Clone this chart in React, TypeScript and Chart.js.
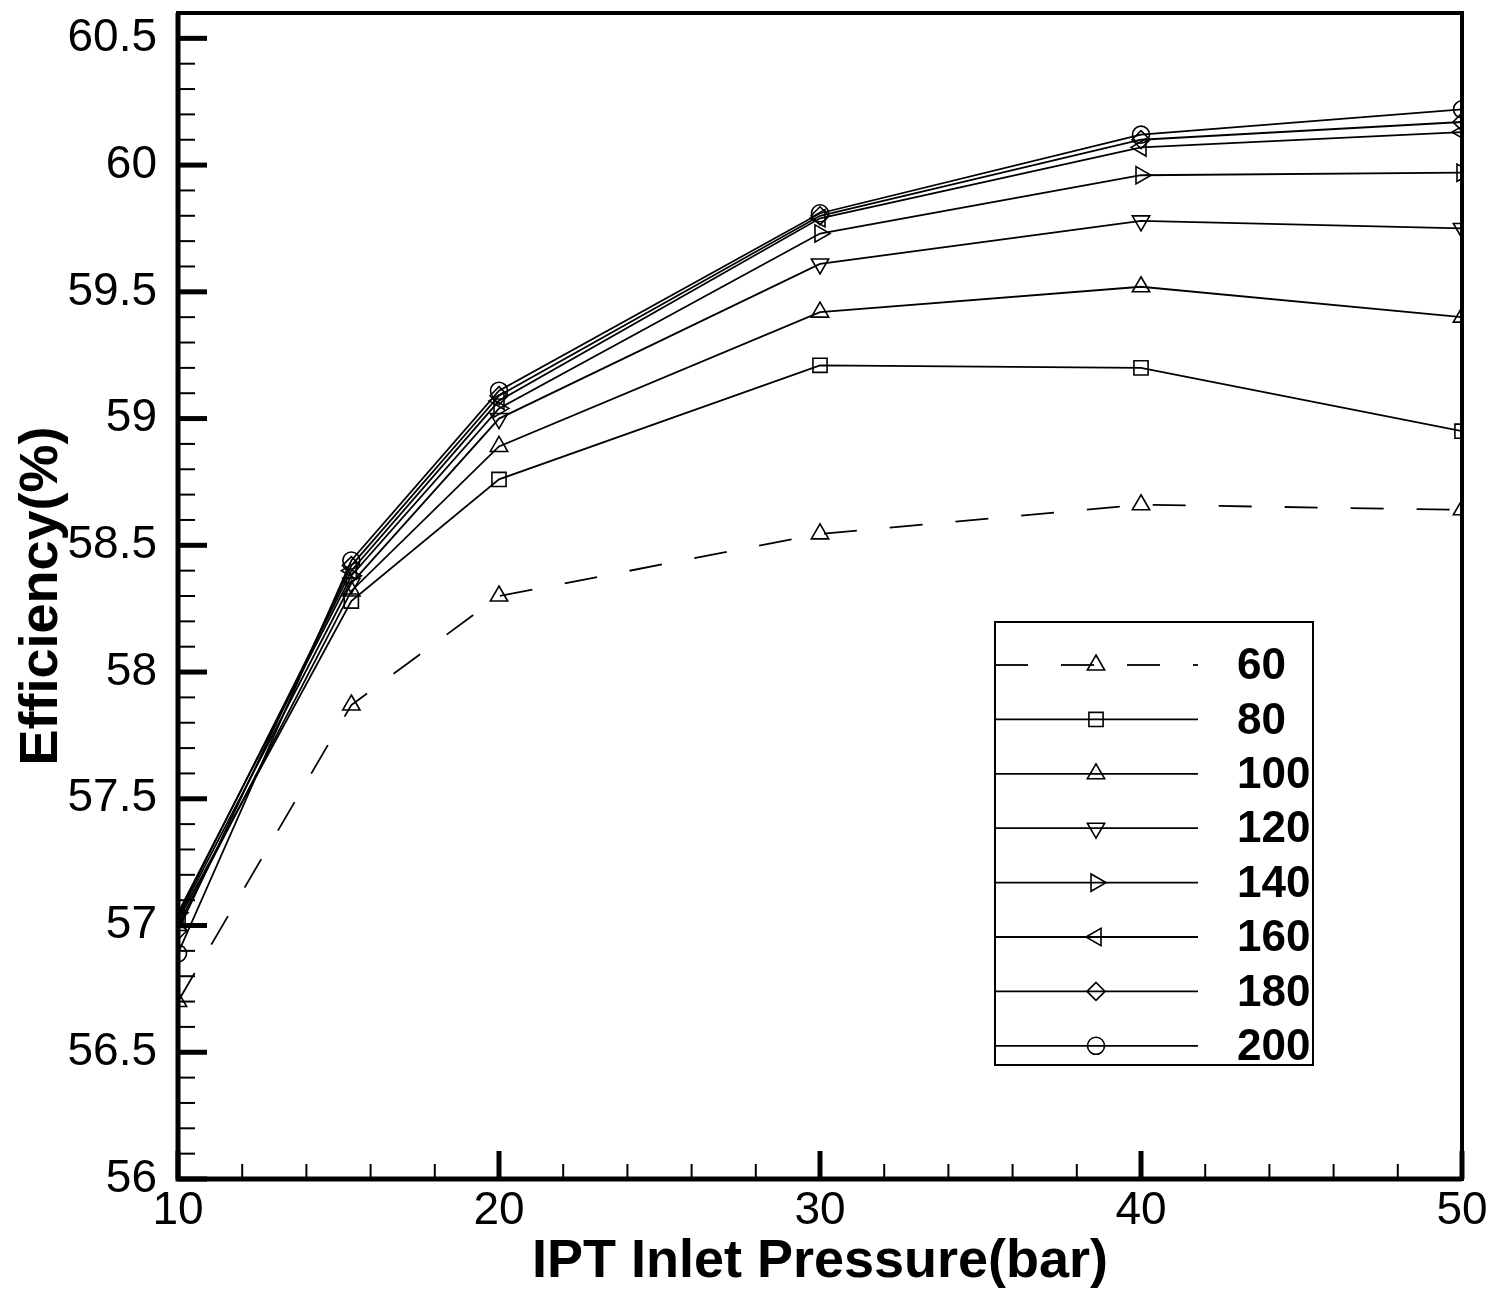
import { useEffect, useRef } from "react";
import { Chart, registerables } from "chart.js";
import { drawPoint } from "chart.js/helpers";

Chart.register(...registerables);

// IPT inlet pressure (bar)
const PRESSURE = [10, 15.4, 20, 30, 40, 50];

// efficiency (%) per series
const EFF_60 = [56.7, 57.87, 58.3, 58.545, 58.66, 58.64];
const EFF_80 = [57.02, 58.28, 58.76, 59.21, 59.2, 58.95];
const EFF_100 = [57.0, 58.32, 58.89, 59.42, 59.52, 59.4];
const EFF_120 = [57.03, 58.35, 59.0, 59.61, 59.78, 59.75];
const EFF_140 = [57.05, 58.38, 59.04, 59.73, 59.96, 59.97];
const EFF_160 = [57.04, 58.4, 59.07, 59.79, 60.07, 60.13];
const EFF_180 = [56.98, 58.42, 59.09, 59.8, 60.1, 60.17];
const EFF_200 = [56.89, 58.44, 59.11, 59.81, 60.12, 60.22];

const SERIES_LABELS = ["60", "80", "100", "120", "140", "160", "180", "200"];
const SERIES_VALUES = [EFF_60, EFF_80, EFF_100, EFF_120, EFF_140, EFF_160, EFF_180, EFF_200];

const X_TICKS = [10, 20, 30, 40, 50];

// marker looks
const MARKER_STYLE = ["triangle", "rect", "triangle", "triangle", "triangle", "triangle", "rectRot", "circle"];
const MARKER_ROTATION = [0, 0, 0, 180, 90, 270, 0, 0];
const MARKER_RADIUS = [10, 10, 10, 10, 10, 10, 9, 8.5];

const FONT = "Arial, 'Liberation Sans', sans-serif";

const frameTicks = {
  id: "frameTicks",
  afterDraw(chart: any) {
    const { ctx, chartArea: a, scales } = chart;
    const x = scales.x;
    const y = scales.y;
    ctx.save();
    ctx.strokeStyle = "#000";
    ctx.lineCap = "butt";
    // minor + major ticks on y, pointing inward
    for (let i = 0; i <= 46; i++) {
      const v = 56 + i * 0.1;
      const py = y.getPixelForValue(v);
      const major = i % 5 === 0;
      ctx.lineWidth = major ? 5 : 2;
      ctx.beginPath();
      ctx.moveTo(a.left, py);
      ctx.lineTo(a.left + (major ? 29 : 17), py);
      ctx.stroke();
    }
    for (let v = 10; v <= 50; v += 2) {
      const px = x.getPixelForValue(v);
      const major = v % 10 === 0;
      ctx.lineWidth = major ? 5 : 2;
      ctx.beginPath();
      ctx.moveTo(px, a.bottom);
      ctx.lineTo(px, a.bottom - (major ? 28 : 15));
      ctx.stroke();
    }
    // frame
    ctx.lineWidth = 4;
    ctx.strokeRect(a.left, a.top, a.right - a.left, a.bottom - a.top);
    ctx.lineWidth = 5;
    ctx.beginPath();
    ctx.moveTo(a.left, a.top);
    ctx.lineTo(a.left, a.bottom);
    ctx.lineTo(a.right, a.bottom);
    ctx.stroke();
    ctx.restore();
  },
};

const boxLegend = {
  id: "boxLegend",
  afterDraw(chart: any) {
    const { ctx, chartArea: a } = chart;
    const left = a.left + 817;
    const top = a.top + 609;
    const w = 318;
    const h = 443;
    ctx.save();
    ctx.strokeStyle = "#000";
    ctx.lineWidth = 2;
    ctx.strokeRect(left, top, w, h);
    chart.data.datasets.forEach((ds: any, i: number) => {
      const ry = top + 43 + i * 54.4;
      ctx.lineWidth = 1.8;
      ctx.setLineDash(ds.borderDash || []);
      ctx.beginPath();
      ctx.moveTo(left, ry);
      ctx.lineTo(left + 203, ry);
      ctx.stroke();
      ctx.setLineDash([]);
      ctx.fillStyle = "rgba(0,0,0,0)";
      ctx.lineWidth = 1.6;
      drawPoint(
        ctx,
        {
          pointStyle: ds.pointStyle,
          rotation: ds.pointRotation,
          radius: ds.pointRadius,
          borderWidth: 1.6,
        } as any,
        left + 101,
        ry
      );
      ctx.fillStyle = "#000";
      ctx.font = `bold 44px ${FONT}`;
      ctx.textAlign = "left";
      ctx.textBaseline = "middle";
      ctx.fillText(ds.label, left + 242, ry + 2);
    });
    ctx.restore();
  },
};

export default function App() {
  const canvasRef = useRef<HTMLCanvasElement>(null);
  const chartRef = useRef<Chart | null>(null);

  useEffect(() => {
    document.body.style.margin = "0";
    if (!canvasRef.current) return;
    const ctx = canvasRef.current.getContext("2d");
    if (!ctx) return;
    chartRef.current?.destroy();

    chartRef.current = new Chart(ctx, {
      type: "line",
      data: {
        datasets: SERIES_LABELS.map((label, i) => ({
          label,
          data: PRESSURE.map((p, j) => ({ x: p, y: SERIES_VALUES[i][j] })),
          borderColor: "#000",
          borderWidth: 1.8,
          borderDash: i === 0 ? [33, 33] : [],
          pointStyle: MARKER_STYLE[i] as any,
          pointRotation: MARKER_ROTATION[i],
          pointRadius: MARKER_RADIUS[i],
          pointBorderWidth: 1.6,
          pointBorderColor: "#000",
          pointBackgroundColor: "rgba(0,0,0,0)",
          tension: 0,
          fill: false,
        })),
      },
      options: {
        animation: false,
        responsive: true,
        maintainAspectRatio: false,
        layout: { padding: { top: 13, right: 33, left: 0, bottom: 0 } },
        plugins: { legend: { display: false }, tooltip: { enabled: false } },
        scales: {
          x: {
            type: "linear",
            min: 10,
            max: 50,
            afterFit: (s: any) => {
              s.height = 121;
              s.paddingLeft = 0;
              s.paddingRight = 0;
            },
            afterBuildTicks: (s: any) => {
              s.ticks = X_TICKS.map((v) => ({ value: v }));
            },
            grid: { display: false, drawTicks: false },
            border: { display: false },
            ticks: {
              color: "#000",
              font: { family: FONT, size: 46 },
              padding: 5,
              maxRotation: 0,
              autoSkip: false,
            },
            title: {
              display: true,
              text: "IPT Inlet Pressure(bar)",
              color: "#000",
              font: { family: FONT, size: 54, weight: "bold" },
              padding: { top: 0, bottom: 5 },
            },
          },
          y: {
            type: "linear",
            min: 56,
            max: 60.6,
            afterFit: (s: any) => {
              s.width = 178;
              s.paddingTop = 0;
              s.paddingBottom = 0;
            },
            afterBuildTicks: (s: any) => {
              s.ticks = s.ticks.filter(
                (t: any) => Math.abs(t.value * 2 - Math.round(t.value * 2)) < 1e-6
              );
            },
            grid: { display: false, drawTicks: false },
            border: { display: false },
            ticks: {
              stepSize: 0.5,
              includeBounds: false,
              color: "#000",
              font: { family: FONT, size: 46 },
              padding: 21,
              callback: (v: any) => String(Math.round(Number(v) * 10) / 10),
            },
            title: {
              display: true,
              text: "Efficiency(%)",
              color: "#000",
              font: { family: FONT, size: 54, weight: "bold" },
              padding: { top: 10, bottom: 0 },
            },
          },
        },
      },
      plugins: [frameTicks, boxLegend],
    });

    return () => {
      chartRef.current?.destroy();
      chartRef.current = null;
    };
  }, []);

  return (
    <div style={{ position: "relative", width: 1495, height: 1300, background: "#fff" }}>
      <canvas ref={canvasRef} />
    </div>
  );
}
